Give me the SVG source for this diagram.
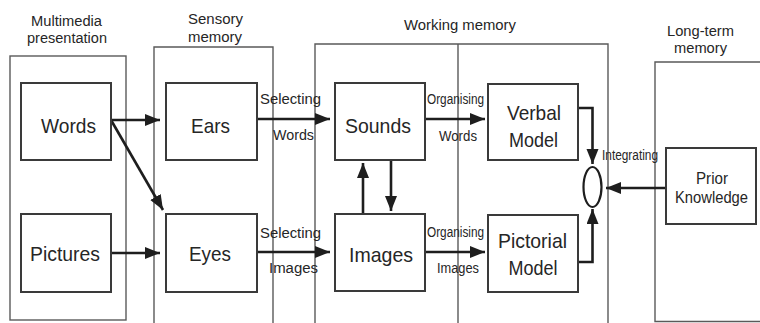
<svg xmlns="http://www.w3.org/2000/svg" width="760" height="323" viewBox="0 0 760 323">
<defs>
<marker id="ah" markerUnits="userSpaceOnUse" markerWidth="16" markerHeight="13" refX="15" refY="6" orient="auto">
<path d="M0,0 L15,6 L0,12 z" fill="#1e1e1e"/>
</marker>
</defs>
<style>
.panel{fill:none;stroke:#5a5a5a;stroke-width:1.4}
.box{fill:#fff;stroke:#3a3a3a;stroke-width:2}
.arr{fill:none;stroke:#1e1e1e;stroke-width:2.6;marker-end:url(#ah)}
text{font-family:"Liberation Sans",Arial,sans-serif;fill:#262626;text-anchor:middle}
.h{font-size:15.5px}
.b{font-size:21px}
.s{font-size:14px}
.p{font-size:16.5px}
</style>
<rect width="760" height="323" fill="#fff"/>
<g id="panels">
<rect class="panel" x="10" y="56" width="116" height="264"/>
<path class="panel" d="M154,330 V47 H273 V330"/>
<path class="panel" d="M315,330 V44 H608 V330 M458,44 V330"/>
<path class="panel" d="M765,62 H655 V321.5 H765"/>
</g>
<g id="headings">
<text class="h" x="66.5" y="26" textLength="71" lengthAdjust="spacingAndGlyphs">Multimedia</text>
<text class="h" x="67" y="42.5" textLength="80" lengthAdjust="spacingAndGlyphs">presentation</text>
<text class="h" x="215.5" y="24" textLength="55" lengthAdjust="spacingAndGlyphs">Sensory</text>
<text class="h" x="215" y="41.5" textLength="54" lengthAdjust="spacingAndGlyphs">memory</text>
<text class="h" x="460" y="30" textLength="112" lengthAdjust="spacingAndGlyphs">Working memory</text>
<text class="h" x="700.5" y="36" textLength="67" lengthAdjust="spacingAndGlyphs">Long-term</text>
<text class="h" x="700.5" y="52.5" textLength="53" lengthAdjust="spacingAndGlyphs">memory</text>
</g>
<g id="connectors">
<line class="arr" x1="111" y1="120" x2="160" y2="120"/>
<line class="arr" x1="111" y1="120" x2="163" y2="210"/>
<line class="arr" x1="111" y1="253" x2="160" y2="253"/>
<line class="arr" x1="257" y1="119" x2="330" y2="119"/>
<line class="arr" x1="257" y1="252" x2="330" y2="252"/>
<line class="arr" x1="425" y1="119" x2="485" y2="119"/>
<line class="arr" x1="425" y1="252" x2="485" y2="252"/>
<line class="arr" x1="363" y1="214" x2="363" y2="163"/>
<line class="arr" x1="391" y1="160" x2="391" y2="211"/>
<path class="arr" d="M578,108 H592.5 V164"/>
<path class="arr" d="M578,262 H592.5 V209"/>
<line class="arr" x1="666" y1="188" x2="606" y2="188"/>
<text class="s" x="290.5" y="104" textLength="61" lengthAdjust="spacingAndGlyphs">Selecting</text>
<text class="s" x="293.5" y="140" textLength="41" lengthAdjust="spacingAndGlyphs">Words</text>
<text class="s" x="290.5" y="238" textLength="61" lengthAdjust="spacingAndGlyphs">Selecting</text>
<text class="s" x="293.5" y="273" textLength="49" lengthAdjust="spacingAndGlyphs">Images</text>
<text class="s" x="455.5" y="104" textLength="57" lengthAdjust="spacingAndGlyphs">Organising</text>
<text class="s" x="458" y="141" textLength="38" lengthAdjust="spacingAndGlyphs">Words</text>
<text class="s" x="455.5" y="237" textLength="57" lengthAdjust="spacingAndGlyphs">Organising</text>
<text class="s" x="458" y="273" textLength="42" lengthAdjust="spacingAndGlyphs">Images</text>
<text class="s" x="630" y="160" textLength="56" lengthAdjust="spacingAndGlyphs">Integrating</text>
</g>
<g id="words">
<rect class="box" x="21" y="83" width="90" height="77"/>
<text class="b" x="68.5" y="133" textLength="55" lengthAdjust="spacingAndGlyphs">Words</text>
</g>
<g id="pictures">
<rect class="box" x="21" y="214" width="90" height="78"/>
<text class="b" x="65" y="261" textLength="70" lengthAdjust="spacingAndGlyphs">Pictures</text>
</g>
<g id="ears">
<rect class="box" x="166" y="83" width="91" height="77"/>
<text class="b" x="210.5" y="133" textLength="39" lengthAdjust="spacingAndGlyphs">Ears</text>
</g>
<g id="eyes">
<rect class="box" x="166" y="214" width="91" height="78"/>
<text class="b" x="210" y="261" textLength="42" lengthAdjust="spacingAndGlyphs">Eyes</text>
</g>
<g id="sounds">
<rect class="box" x="335" y="83" width="90" height="77"/>
<text class="b" x="378" y="133" textLength="66" lengthAdjust="spacingAndGlyphs">Sounds</text>
</g>
<g id="images">
<rect class="box" x="335" y="214" width="90" height="77"/>
<text class="b" x="381" y="262" textLength="64" lengthAdjust="spacingAndGlyphs">Images</text>
</g>
<g id="verbal-model">
<rect class="box" x="488" y="84" width="90" height="76"/>
<text class="b" x="534" y="120" textLength="54" lengthAdjust="spacingAndGlyphs">Verbal</text>
<text class="b" x="533.5" y="147" textLength="49" lengthAdjust="spacingAndGlyphs">Model</text>
</g>
<g id="pictorial-model">
<rect class="box" x="488" y="215" width="90" height="77"/>
<text class="b" x="532.5" y="248" textLength="69" lengthAdjust="spacingAndGlyphs">Pictorial</text>
<text class="b" x="533" y="275" textLength="49" lengthAdjust="spacingAndGlyphs">Model</text>
</g>
<g id="integrate">
<ellipse cx="592.5" cy="187" rx="9" ry="20" fill="#fff" stroke="#1e1e1e" stroke-width="2.2"/>
</g>
<g id="prior-knowledge">
<rect class="box" x="666" y="148" width="90" height="76"/>
<text class="p" x="712" y="184" textLength="32" lengthAdjust="spacingAndGlyphs">Prior</text>
<text class="p" x="711.5" y="203" textLength="73" lengthAdjust="spacingAndGlyphs">Knowledge</text>
</g>
</svg>
